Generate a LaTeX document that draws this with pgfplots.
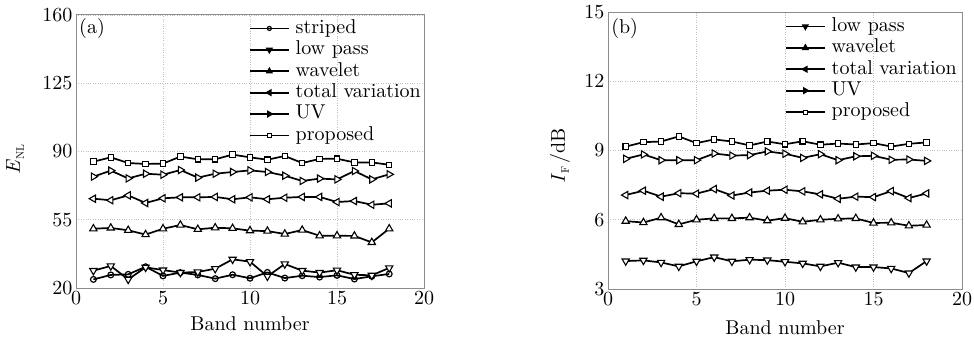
\documentclass[border=0pt]{standalone}
\usepackage{fontspec}
\setmainfont{lmroman10-regular}[Extension=.otf, ItalicFont=lmroman10-italic, BoldFont=lmroman10-bold]
\usepackage{pgfplots}
\pgfplotsset{compat=1.18}
\definecolor{framegray}{rgb}{0.55,0.55,0.55}
\pgfplotsset{
  common/.style={
    scale only axis,
    xmin=0, xmax=20,
    xtick={0,5,10,15,20},
    major tick length=0pt,
    /pgf/number format/assume math mode=true,
    axis line style={framegray, line width=1pt},
    grid=major,
    major grid style={dotted, gray!50, line width=0.9pt},
    tick label style={font=\fontsize{20}{24}\selectfont},
    label style={font=\fontsize{20}{24}\selectfont},
    xlabel={Band number},
    legend cell align=left,
    legend image code/.code={\draw[mark repeat=2,mark phase=2,##1] plot coordinates {(0pt,0pt) (19.5pt,0pt) (39pt,0pt)};},
    legend style={draw=none, fill=none, font=\fontsize{20}{24}\selectfont,
      inner xsep=2pt, inner ysep=0pt,
      nodes={inner sep=0pt, text height=14pt, text depth=4.5pt},
      row sep=2.9pt, column sep=6pt},
    every axis plot/.append style={black, line width=1.7pt},
  },
  sC/.style={mark=o, mark size=2.9pt, mark options={solid, line width=1.2pt, fill=white},
    legend image post style={mark size=2pt}},
  sD/.style={mark=triangle*, mark size=4.2pt, mark options={solid, rotate=180, line width=1.1pt, fill=white},
    legend image post style={mark size=2.6pt, mark options={solid, rotate=180, fill=black}}},
  sU/.style={mark=triangle*, mark size=4.2pt, mark options={solid, line width=1.1pt, fill=white},
    legend image post style={mark size=2.6pt, mark options={solid, fill=black}}},
  sL/.style={mark=triangle*, mark size=4.2pt, mark options={solid, rotate=90, line width=1.1pt, fill=white},
    legend image post style={mark size=2.6pt, mark options={solid, rotate=90, fill=black}}},
  sR/.style={mark=triangle*, mark size=4.2pt, mark options={solid, rotate=-90, line width=1.1pt, fill=white},
    legend image post style={mark size=2.6pt, mark options={solid, rotate=-90, fill=black}}},
  sS/.style={mark=square*, mark size=2.7pt, mark options={solid, line width=1.1pt, fill=white},
    legend image post style={mark size=2pt}},
}
\begin{document}
\begin{tikzpicture}
\path[use as bounding box] (0pt,0pt) rectangle (974pt,338pt);
% ---------------- (a) ----------------
\begin{axis}[common,
  at={(76pt,50pt)}, anchor=south west,
  width=348pt, height=273pt,
  ymin=20, ymax=160, ytick={20,55,90,125,160},
  ylabel={\textit{E}\raisebox{-4pt}{\fontsize{11}{12}\selectfont NL}},
  y label style={at={(axis description cs:-0.175,0.47)}, anchor=center},
  x label style={at={(axis description cs:0.5,0)}, anchor=base, inner sep=0pt, yshift=-42pt},
  legend style={at={(axis description cs:1,1)}, anchor=north east, xshift=-1pt, yshift=-4pt},
]
\addplot[sC] coordinates {(1,24.4)(2,26.7)(3,27.0)(4,30.9)(5,26.2)(6,27.9)(7,26.7)(8,24.8)(9,26.8)(10,25.0)(11,28.0)(12,25.1)(13,26.3)(14,25.6)(15,26.5)(16,24.6)(17,26.0)(18,27.2)};
\addlegendentry{striped}
\addplot[sD] coordinates {(1,28.9)(2,31.3)(3,24.4)(4,30.6)(5,29.2)(6,27.9)(7,28.2)(8,29.9)(9,34.7)(10,33.5)(11,26.0)(12,32.3)(13,28.9)(14,27.9)(15,29.1)(16,26.8)(17,26.5)(18,30.3)};
\addlegendentry{low pass}
\addplot[sU] coordinates {(1,50.4)(2,50.8)(3,49.6)(4,47.4)(5,50.4)(6,52.3)(7,50.1)(8,50.9)(9,50.6)(10,49.4)(11,49.2)(12,47.7)(13,49.7)(14,46.8)(15,46.8)(16,46.7)(17,43.4)(18,50.4)};
\addlegendentry{wavelet}
\addplot[sL] coordinates {(1,65.8)(2,65.0)(3,67.5)(4,63.6)(5,66.0)(6,66.5)(7,66.5)(8,66.7)(9,65.5)(10,66.5)(11,65.5)(12,66.3)(13,66.7)(14,66.7)(15,64.1)(16,64.6)(17,62.7)(18,63.4)};
\addlegendentry{total variation}
\addplot[sR] coordinates {(1,77.1)(2,80.2)(3,76.2)(4,78.6)(5,78.1)(6,80.5)(7,76.6)(8,78.6)(9,79.5)(10,80.3)(11,79.5)(12,77.6)(13,74.9)(14,76.1)(15,75.7)(16,80.0)(17,75.7)(18,78.3)};
\addlegendentry{UV}
\addplot[sS] coordinates {(1,84.8)(2,87.0)(3,84.1)(4,83.6)(5,83.8)(6,87.4)(7,86.0)(8,86.0)(9,88.4)(10,87.0)(11,85.8)(12,87.7)(13,84.1)(14,86.2)(15,86.3)(16,84.4)(17,84.4)(18,83.2)};
\addlegendentry{proposed}
\node[font=\fontsize{20}{24}\selectfont, anchor=center] at (axis description cs:0.046,0.949) {(a)};
\end{axis}
% ---------------- (b) ----------------
\begin{axis}[common,
  at={(608pt,49pt)}, anchor=south west,
  width=354pt, height=277pt,
  ymin=3, ymax=15, ytick={3,6,9,12,15},
  ylabel={\textit{I}\raisebox{-4pt}{\fontsize{11}{12}\selectfont F}\,/dB},
  y label style={at={(axis description cs:-0.136,0.48)}, anchor=center},
  x label style={at={(axis description cs:0.5,0)}, anchor=base, inner sep=0pt, yshift=-45pt},
  legend style={at={(axis description cs:1,1)}, anchor=north east, xshift=-3pt, yshift=-5pt},
]
\addplot[sD] coordinates {(1,4.21)(2,4.24)(3,4.15)(4,3.98)(5,4.20)(6,4.38)(7,4.20)(8,4.27)(9,4.25)(10,4.18)(11,4.11)(12,3.98)(13,4.14)(14,3.95)(15,3.95)(16,3.89)(17,3.69)(18,4.21)};
\addlegendentry{low pass}
\addplot[sU] coordinates {(1,5.94)(2,5.88)(3,6.09)(4,5.80)(5,6.00)(6,6.06)(7,6.06)(8,6.09)(9,5.96)(10,6.07)(11,5.91)(12,6.00)(13,6.04)(14,6.06)(15,5.86)(16,5.87)(17,5.74)(18,5.77)};
\addlegendentry{wavelet}
\addplot[sL] coordinates {(1,7.07)(2,7.26)(3,7.00)(4,7.15)(5,7.13)(6,7.33)(7,7.05)(8,7.18)(9,7.26)(10,7.30)(11,7.23)(12,7.10)(13,6.91)(14,7.00)(15,6.98)(16,7.24)(17,6.94)(18,7.14)};
\addlegendentry{total variation}
\addplot[sR] coordinates {(1,8.64)(2,8.83)(3,8.58)(4,8.58)(5,8.58)(6,8.87)(7,8.78)(8,8.80)(9,8.96)(10,8.86)(11,8.68)(12,8.84)(13,8.58)(14,8.75)(15,8.77)(16,8.60)(17,8.61)(18,8.55)};
\addlegendentry{UV}
\addplot[sS] coordinates {(1,9.17)(2,9.36)(3,9.39)(4,9.61)(5,9.32)(6,9.48)(7,9.39)(8,9.22)(9,9.39)(10,9.27)(11,9.40)(12,9.25)(13,9.30)(14,9.26)(15,9.32)(16,9.17)(17,9.29)(18,9.35)};
\addlegendentry{proposed}
\node[font=\fontsize{20}{24}\selectfont, anchor=center] at (axis description cs:0.047,0.939) {(b)};
\end{axis}
\end{tikzpicture}
\end{document}
